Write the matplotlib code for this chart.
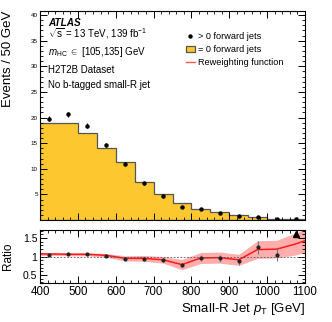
import numpy as np
import matplotlib
matplotlib.use("Agg")
import matplotlib.pyplot as plt
from matplotlib.ticker import MultipleLocator
from matplotlib.lines import Line2D

plt.rcParams['font.family'] = ['Liberation Sans', 'DejaVu Sans']
plt.rcParams['mathtext.fontset'] = 'custom'
plt.rcParams['mathtext.rm'] = 'Liberation Sans'
plt.rcParams['mathtext.it'] = 'Liberation Sans:italic'

# DATA
bin_edges = [400, 450, 500, 550, 600, 650, 700, 750, 800, 850, 900, 950, 1000, 1050, 1100]
bin_centers = [425, 475, 525, 575, 625, 675, 725, 775, 825, 875, 925, 975, 1025, 1075]
zero_fwd = [18.9, 18.9, 17.0, 14.1, 11.3, 7.5, 5.0, 3.4, 2.2, 1.5, 0.9, 0.6, 0.26, 0.2]
gt0_fwd = [19.8, 20.6, 18.4, 14.6, 10.9, 7.2, 4.6, 2.6, 2.1, 1.4, 0.73, 0.6, 0.2, 0.25]
gt0_err = [0.5, 0.5, 0.45, 0.4, 0.35, 0.3, 0.25, 0.2, 0.18, 0.15, 0.12, 0.1, 0.08, 0.08]

ratio_vals = [1.04, 1.08, 1.06, 1.02, 0.94, 0.94, 0.91, 0.77, 0.95, 0.95, 0.87, 1.25, 1.05]
ratio_err = [0.03, 0.03, 0.03, 0.04, 0.04, 0.05, 0.06, 0.06, 0.08, 0.1, 0.1, 0.17, 0.18]
ratio_x = bin_centers[:13]
overflow_x = [1075]
overflow_y = [1.6]

rw_x = [400, 425, 475, 525, 575, 625, 675, 725, 775, 825, 875, 925, 975, 1025, 1075, 1100]
rw_y = [1.07, 1.07, 1.06, 1.06, 1.03, 0.95, 0.95, 0.91, 0.78, 0.96, 0.97, 0.91, 1.19, 1.20, 1.34, 1.43]
rw_err = [0.04, 0.04, 0.04, 0.04, 0.05, 0.07, 0.08, 0.09, 0.14, 0.15, 0.15, 0.15, 0.24, 0.24, 0.30, 0.32]

fig = plt.figure(figsize=(3.32, 3.22), dpi=100)
ax = fig.add_axes([0.1205, 0.3168, 0.7982, 0.649])
rax = fig.add_axes([0.1205, 0.1211, 0.7982, 0.1646])

#MAIN PANEL
hist_patch = ax.hist(bin_centers, bins=bin_edges, weights=zero_fwd, histtype='stepfilled',
                     facecolor='#FDC82F', edgecolor='#555555', linewidth=0.9)[2][0]
ax.errorbar(bin_centers, gt0_fwd, yerr=gt0_err, fmt='o', color='black', ms=2.2,
            elinewidth=0.8, capsize=0)
ax.set_xlim(400, 1100)
ax.set_ylim(0, 40.8)
ax.set_ylabel('Events / 50 GeV', fontsize=9.5, loc='top')
ax.yaxis.set_label_coords(-0.1, 1.0)
ax.xaxis.set_major_locator(MultipleLocator(100))
ax.xaxis.set_minor_locator(MultipleLocator(20))
ax.yaxis.set_major_locator(MultipleLocator(5))
ax.yaxis.set_minor_locator(MultipleLocator(1))
ax.tick_params(which='both', direction='in', top=True, right=True, labelsize=4.5, pad=1.5)
ax.tick_params(which='major', length=5, width=0.7)
ax.tick_params(which='minor', length=2.5, width=0.6)
ax.tick_params(axis='x', labelbottom=False)
ax.set_yticks([5, 10, 15, 20, 25, 30, 35, 40])

dot_handle = Line2D([], [], marker='o', ls='none', color='black', ms=2.2)
rw_handle = Line2D([], [], color='#FF5555', lw=1.0)
ax.legend([dot_handle, hist_patch, rw_handle],
          ['> 0 forward jets', '= 0 forward jets', 'Reweighting function'],
          loc='upper left', bbox_to_anchor=(0.525, 0.93), frameon=False, fontsize=6.6,
          handlelength=1.0, handletextpad=0.35, labelspacing=0.45, borderpad=0.2)

ax.text(0.03, 0.943, 'ATLAS', transform=ax.transAxes, fontsize=7.2, fontweight='bold',
        fontstyle='italic', va='center')
ax.text(0.03, 0.89, r'$\sqrt{\mathrm{s}}$ = 13 TeV, 139 fb$^{\mathrm{-1}}$',
        transform=ax.transAxes, fontsize=7, va='center')
ax.text(0.03, 0.806, r'$m_{\mathrm{HC}}$ $\in$ [105,135] GeV', transform=ax.transAxes,
        fontsize=7, va='center')
ax.text(0.03, 0.72, 'H2T2B Dataset', transform=ax.transAxes, fontsize=7, va='center')
ax.text(0.03, 0.646, 'No b-tagged small-R jet', transform=ax.transAxes, fontsize=7,
        va='center')

#RATIO PANEL
lo = np.array(rw_y) - np.array(rw_err)
hi = np.array(rw_y) + np.array(rw_err)
rax.fill_between(rw_x, lo, hi, color='#FF9A9A', alpha=0.8, linewidth=0)
rax.plot(rw_x, rw_y, color='#FF1A1A', lw=1.1)
rax.axhline(1.0, color='#555555', ls=(0, (2, 2)), lw=0.6)
rax.errorbar(ratio_x, ratio_vals, yerr=ratio_err, fmt='o', color='#222222', ms=2,
             ecolor='#777777', elinewidth=0.8, capsize=0)
rax.plot(overflow_x, overflow_y, '^', color='black', ms=5)
rax.set_xlim(400, 1100)
rax.set_ylim(0.28, 1.72)
rax.set_yticks([0.5, 1.0, 1.5])
rax.set_yticklabels(['0.5', '1', '1.5'])
rax.xaxis.set_major_locator(MultipleLocator(100))
rax.xaxis.set_minor_locator(MultipleLocator(20))
rax.yaxis.set_minor_locator(MultipleLocator(0.1))
rax.tick_params(which='both', direction='in', top=True, right=True, pad=2)
rax.tick_params(axis='x', labelsize=8.3)
rax.tick_params(axis='y', labelsize=7.5)
rax.tick_params(which='major', length=5, width=0.7)
rax.tick_params(which='minor', length=2.5, width=0.6)
rax.set_ylabel('Ratio', fontsize=8.5)
rax.yaxis.set_label_coords(-0.1, 0.5)
rax.set_xlabel(r'Small-R Jet $p_{\mathrm{T}}$ [GeV]', fontsize=9.5, loc='right', labelpad=2)

for a in (ax, rax):
    for s in a.spines.values():
        s.set_linewidth(0.8)

fig.savefig('out.png', dpi=100)
